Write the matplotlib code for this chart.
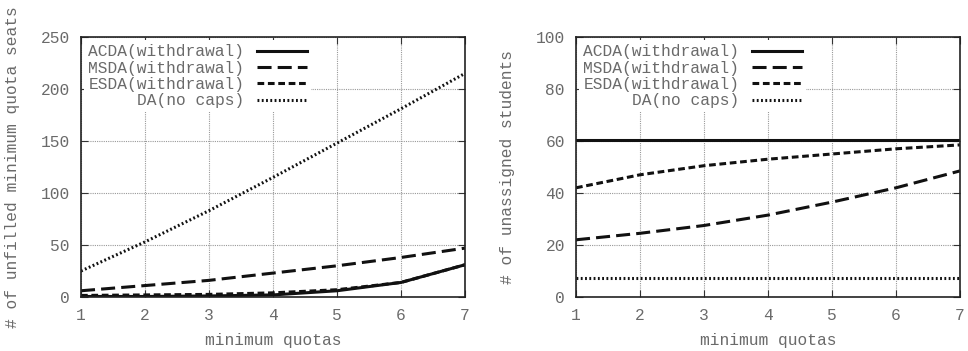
import numpy as np
import matplotlib.pyplot as plt

plt.rcParams['font.family'] = 'Liberation Mono'
plt.rcParams['font.size'] = 11.7

quotas = [1, 2, 3, 4, 5, 6, 7]

# unfilled minimum quota seats
seats_acda = [0.5, 0.5, 1, 2, 6, 14, 31]
seats_msda = [6, 11, 16, 23, 30, 38, 47]
seats_esda = [1.5, 2, 2.5, 4, 7, 14, 31]
seats_da = [25, 53, 83, 115, 148, 181, 215]

# unassigned students
unas_acda = [60.5, 60.5, 60.5, 60.5, 60.5, 60.5, 60.5]
unas_msda = [22, 24.5, 27.5, 31.5, 36.5, 42, 48.5]
unas_esda = [42, 47, 50.5, 53, 55, 57, 58.5]
unas_da = [7.5, 7.5, 7.5, 7.5, 7.5, 7.5, 7.5]

labels = ['ACDA(withdrawal)', 'MSDA(withdrawal)', 'ESDA(withdrawal)', 'DA(no caps)']
styles = [dict(ls='-'), dict(ls=(0, (4.6, 2))), dict(ls=(0, (2.2, 1.2))), dict(ls=(0, (0.6, 0.8)))]

txt = '#6a6a6a'

fig = plt.figure(figsize=(9.68, 3.51), dpi=100)
ax1 = fig.add_axes([81 / 968, 54 / 351, 384 / 968, 260 / 351])
ax2 = fig.add_axes([576 / 968, 54 / 351, 384 / 968, 260 / 351])


def draw(ax, series, ymax, ystep, ylabel):
    for ys, lab, st in zip(series, labels, styles):
        ax.plot(quotas, ys, color='#111111', lw=2.2, label=lab, **st)
    ax.set_xlim(1, 7)
    ax.set_ylim(0, ymax)
    ax.set_xticks(quotas)
    ax.set_yticks(np.arange(0, ymax + 1, ystep))
    ax.grid(True, color='#999999', ls=(0, (1, 1)), lw=0.8)
    ax.tick_params(direction='in', top=True, right=True, colors='#333333',
                   labelcolor=txt, length=5, pad=8)
    for s in ax.spines.values():
        s.set_linewidth(1.2)
        s.set_color('#222222')
    ax.set_xlabel('minimum quotas', color=txt, labelpad=7)
    ax.set_ylabel(ylabel, color=txt)
    ax.yaxis.set_label_coords(-0.158, 0.5)
    leg = ax.legend(loc='upper left', markerfirst=False, frameon=True,
                    fancybox=False, borderaxespad=0.2, handlelength=3.1,
                    labelspacing=0.08, borderpad=0.25, handletextpad=0.75)
    leg.get_frame().set_edgecolor('none')
    leg.get_frame().set_facecolor('white')
    leg.get_frame().set_alpha(1)
    for t in leg.get_texts():
        t.set_color(txt)
        t.set_ha('right')


draw(ax1, [seats_acda, seats_msda, seats_esda, seats_da], 250, 50,
     '# of unfilled minimum quota seats')
draw(ax2, [unas_acda, unas_msda, unas_esda, unas_da], 100, 20,
     '# of unassigned students')

fig.savefig('out.png', dpi=100)
